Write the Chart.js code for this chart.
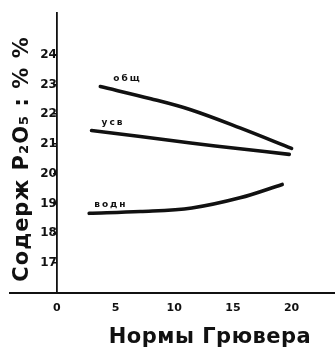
<!DOCTYPE html>
<html>
<head>
<meta charset="utf-8">
<script src="https://cdn.jsdelivr.net/npm/chart.js@4/dist/chart.umd.min.js"></script>
<style>
  html, body { margin: 0; padding: 0; background: #fff; }
  #wrap { width: 335px; height: 361px; }
</style>
</head>
<body>
<div id="wrap"><canvas id="c" width="335" height="361"></canvas></div>
<script>
// Phosphate content (P2O5, %) against the Gruber fertiliser rate
const xTicks = [0, 5, 10, 15, 20];
const yTicks = [17, 18, 19, 20, 21, 22, 23, 24];

const seriesNames = ['общ', 'усв', 'водн'];

const totalX = [3.7, 8.0, 11.4, 15.6, 20.0];
const totalY = [22.93, 22.52, 22.15, 21.54, 20.85];

const availX = [2.95, 7.1, 11.4, 15.6, 19.8];
const availY = [21.45, 21.25, 21.03, 20.84, 20.65];

const waterX = [2.75, 7.1, 11.5, 15.6, 19.2];
const waterY = [18.67, 18.73, 18.85, 19.19, 19.64];

const xTitle = 'Нормы Грювера';
const yTitle = 'Содерж P₂O₅ : % %';

const ink = '#111';

function pairs(xs, ys) {
  return xs.map((x, i) => ({ x: x, y: ys[i] }));
}

function lineSet(label, xs, ys) {
  return {
    label: label,
    data: pairs(xs, ys),
    borderColor: ink,
    borderWidth: 3.6,
    pointRadius: 0,
    fill: false,
    tension: 0.35,
    borderCapStyle: 'round'
  };
}

// Hand-lettered captions: axis titles and the series names beside each curve
const captions = {
  id: 'captions',
  afterDraw(chart) {
    const ctx = chart.ctx;
    const area = chart.chartArea;
    ctx.save();
    ctx.fillStyle = ink;

    // series names, placed just above the first point of each curve
    ctx.font = 'bold 9px "DejaVu Sans"';
    ctx.letterSpacing = '2px';
    ctx.textAlign = 'left';
    ctx.textBaseline = 'bottom';
    const offsets = [[13, -3], [10, -3], [5, -4]];
    chart.data.datasets.forEach((ds, i) => {
      const pt = chart.getDatasetMeta(i).data[0];
      ctx.fillText(ds.label, pt.x + offsets[i][0], pt.y + offsets[i][1]);
    });

    // x axis title
    ctx.font = 'bold 21px "DejaVu Sans"';
    ctx.letterSpacing = '0.5px';
    ctx.textAlign = 'center';
    ctx.textBaseline = 'middle';
    ctx.fillText(xTitle, 210, area.bottom + 45);

    // y axis title, reading bottom to top
    ctx.translate(23, 159);
    ctx.rotate(-Math.PI / 2);
    ctx.font = 'bold 21px "DejaVu Sans"';
    ctx.letterSpacing = '1px';
    ctx.fillText(yTitle, 0, 0);
    ctx.restore();
  }
};

new Chart(document.getElementById('c'), {
  type: 'line',
  data: {
    datasets: [
      lineSet(seriesNames[0], totalX, totalY),
      lineSet(seriesNames[1], availX, availY),
      lineSet(seriesNames[2], waterX, waterY)
    ]
  },
  options: {
    responsive: false,
    animation: false,
    layout: { padding: { left: 10, right: 0, top: 13, bottom: 37 } },
    plugins: { legend: { display: false }, tooltip: { enabled: false } },
    scales: {
      x: {
        type: 'linear',
        position: 'bottom',
        min: -4,
        max: 23.7,
        afterBuildTicks(scale) { scale.ticks = xTicks.map(v => ({ value: v })); },
        grid: { display: false, drawTicks: false },
        border: { display: true, color: ink, width: 2 },
        ticks: {
          color: ink,
          padding: 9,
          font: { family: 'DejaVu Sans', size: 11, weight: 'bold' },
          maxRotation: 0
        }
      },
      y: {
        type: 'linear',
        position: { x: 0 },
        min: 16,
        max: 25.4,
        afterBuildTicks(scale) { scale.ticks = yTicks.map(v => ({ value: v })); },
        grid: { drawOnChartArea: false, drawTicks: true, tickLength: 3, color: ink, lineWidth: 1.5 },
        border: { display: true, color: ink, width: 1.8 },
        ticks: {
          color: ink,
          padding: 3,
          font: { family: 'DejaVu Sans', size: 12, weight: 'bold' }
        }
      }
    }
  },
  plugins: [captions]
});
</script>
</body>
</html>
